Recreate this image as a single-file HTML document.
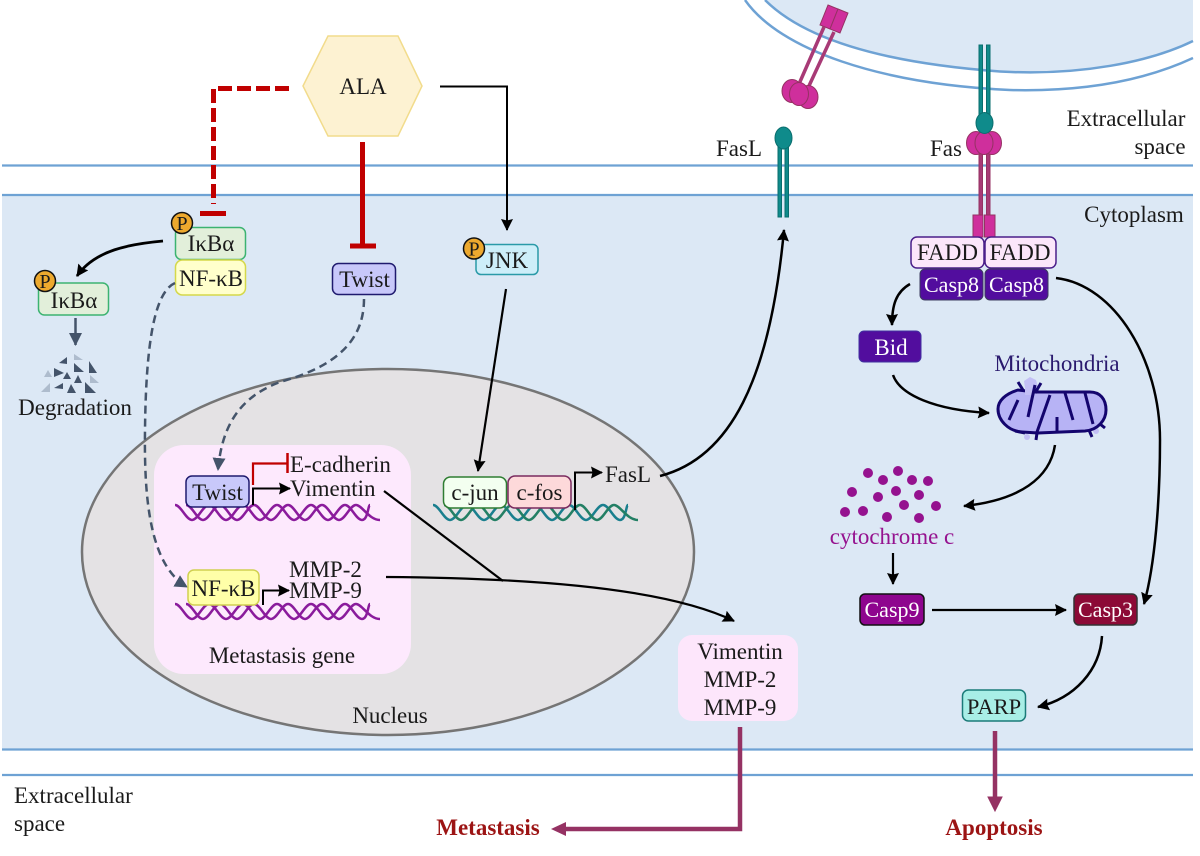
<!DOCTYPE html>
<html><head><meta charset="utf-8"><style>
html,body{margin:0;padding:0;background:#fff}
svg{display:block}
text{font-family:"Liberation Serif",serif;font-size:23px;fill:#1a1a1a;text-anchor:middle}
.l{text-anchor:start}
.w{fill:#fff}
.b{font-weight:bold;fill:#9c1414}
.p{font-size:20px}
</style></head><body>
<svg width="1200" height="856" viewBox="0 0 1200 856" xmlns="http://www.w3.org/2000/svg">
<defs>
<marker id="a" markerUnits="userSpaceOnUse" markerWidth="14" markerHeight="14" refX="11" refY="6" orient="auto"><path d="M0 0L12 6L0 12L1.500 6Z" fill="#000"/></marker>
<marker id="g" markerUnits="userSpaceOnUse" markerWidth="16" markerHeight="16" refX="12" refY="6.5" orient="auto"><path d="M0 0L13 6.500L0 13Z" fill="#44546a"/></marker>
</defs>
<!-- background -->
<rect x="2" y="195" width="1191" height="554" fill="#dce8f5"/>
<path d="M765 0C800 35 870 62 1000 71.500C1080 76 1150 62 1193 41V0Z" fill="#dce8f5"/>
<path d="M765 0C800 35 870 62 1000 71.500C1080 76 1150 62 1193 41" fill="none" stroke="#6ea2d4" stroke-width="2.500"/>
<path d="M745 0C780 50 880 84 1010 90C1090 92 1150 78 1193 58" fill="none" stroke="#6ea2d4" stroke-width="2.500"/>
<g stroke="#6ea2d4" stroke-width="2.200"><path d="M2 165.500H1193M2 195H1193M2 749.500H1193M2 775H1193"/></g>

<!-- nucleus -->
<ellipse cx="388" cy="552" rx="306" ry="183" fill="#e4e2e4" stroke="#757575" stroke-width="2.500"/>
<rect x="154" y="445" width="257" height="229" rx="30" fill="#fde9fd"/>

<!-- hexagon -->
<polygon points="303,86 328,36 398,36 422,86 398,136 328,136" fill="#fdf2d2" stroke="#f2dc8c" stroke-width="1.500"/>
<text x="363" y="94">ALA</text>
<!-- inhibitions -->
<path d="M289 88.500H213.500V204" fill="none" stroke="#c00000" stroke-width="5" stroke-dasharray="14 5"/>
<path d="M200 213.500H226" stroke="#c00000" stroke-width="5"/>
<path d="M362.500 142V245M350 246H376" stroke="#c00000" stroke-width="5" fill="none"/>
<!-- JNK arrow -->
<path d="M440 86.500H507V230" fill="none" stroke="#000" stroke-width="2" marker-end="url(#a)"/>

<!-- IkBa group -->
<rect x="175.500" y="227.500" width="70" height="32" rx="6" fill="#e2efda" stroke="#3cb371" stroke-width="1.500"/>
<text x="211" y="251">IκBα</text>
<rect x="175.500" y="260" width="70" height="35" rx="7" fill="#ffffcc" stroke="#d5d84a" stroke-width="1.500"/>
<text x="211" y="286">NF-κB</text>
<circle cx="182" cy="223" r="10.500" fill="#eda92e" stroke="#111" stroke-width="1.500"/>
<text class="p" x="182" y="230">P</text>
<path d="M163 241C130 244 95 250 77 276" fill="none" stroke="#000" stroke-width="2.800" marker-end="url(#a)"/>
<rect x="38.500" y="283" width="70" height="32" rx="6" fill="#e2efda" stroke="#3cb371" stroke-width="1.500"/>
<text x="74" y="308">IκBα</text>
<circle cx="45" cy="281" r="10.500" fill="#eda92e" stroke="#111" stroke-width="1.500"/>
<text class="p" x="45" y="288">P</text>
<path d="M75.500 318V345" stroke="#44546a" stroke-width="2.500" marker-end="url(#g)"/>
<!-- degradation fragments -->
<g fill="#44546a">
<path d="M59 363L67 357V364ZM74 363L84 372H74ZM89 361L97 373H89ZM54 368L64 373L54 377ZM63 379L67 372L71 379ZM74 383L78 375L82 383ZM54 388L63 383V389ZM67 393L71 384L76 393ZM85 382L96 393H85Z"/>
</g>
<g fill="#aebccd">
<path d="M74 354L83 360H74ZM44 377L48 370L52 377ZM90 375L99 383H90ZM41 392L50 383V392Z"/>
</g>
<text x="75" y="415">Degradation</text>

<!-- dashed -->
<g fill="none" stroke="#44546a" stroke-width="2.500" stroke-dasharray="8 5">
<path d="M175 283C155 292 146 340 145 430C144 500 150 565 187 587" marker-end="url(#g)"/>
<path d="M364 299C364 345 330 368 280 382C240 397 222 425 218 470" marker-end="url(#g)"/>
</g>

<rect x="332.500" y="263.500" width="63" height="31" rx="6" fill="#c8c8fa" stroke="#1f1a6e" stroke-width="1.500"/>
<text x="364.500" y="287">Twist</text>
<rect x="476" y="244.500" width="62" height="30" rx="5" fill="#cdeef9" stroke="#2a9aa8" stroke-width="1.500"/>
<text x="507" y="268">JNK</text>
<circle cx="474" cy="248.500" r="10.500" fill="#eda92e" stroke="#111" stroke-width="1.500"/>
<text class="p" x="474" y="255.500">P</text>

<!-- purple DNA -->
<g fill="none" stroke="#8a1b9c" stroke-width="2.500">
<path d="M175 505c6 0 11 15 17 15s11 -15 17 -15s11 15 17 15s11 -15 17 -15s11 15 17 15s11 -15 17 -15s11 15 17 15s11 -15 17 -15s11 15 17 15s11 -15 17 -15s11 15 17 15s6 -15 8 -15"/>
<path d="M186 505c6 0 11 15 17 15s11 -15 17 -15s11 15 17 15s11 -15 17 -15s11 15 17 15s11 -15 17 -15s11 15 17 15s11 -15 17 -15s11 15 17 15s11 -15 17 -15s13 15 24 15"/>
<path d="M175 604c6 0 11 15 17 15s11 -15 17 -15s11 15 17 15s11 -15 17 -15s11 15 17 15s11 -15 17 -15s11 15 17 15s11 -15 17 -15s11 15 17 15s11 -15 17 -15s11 15 17 15s6 -15 8 -15"/>
<path d="M186 604c6 0 11 15 17 15s11 -15 17 -15s11 15 17 15s11 -15 17 -15s11 15 17 15s11 -15 17 -15s11 15 17 15s11 -15 17 -15s11 15 17 15s11 -15 17 -15s13 15 24 15"/>
</g>
<rect x="186" y="476" width="63" height="31" rx="6" fill="#c8c8fa" stroke="#1f1a6e" stroke-width="1.500"/>
<text x="217.500" y="500">Twist</text>
<rect x="188" y="570" width="71" height="35" rx="6" fill="#ffffa8" stroke="#d0d050" stroke-width="1.500"/>
<text x="223.500" y="596">NF-κB</text>
<path d="M253 485V463.500H287" fill="none" stroke="#c00000" stroke-width="2.200"/>
<path d="M287.500 453V473" stroke="#c00000" stroke-width="2.500"/>
<path d="M253 505V488.500H290" fill="none" stroke="#000" stroke-width="2" marker-end="url(#a)"/>
<path d="M263 605V590.500H289" fill="none" stroke="#000" stroke-width="2" marker-end="url(#a)"/>
<text class="l" x="290" y="472">E-cadherin</text>
<text class="l" x="290" y="496">Vimentin</text>
<text class="l" x="289" y="577">MMP-2</text>
<text class="l" x="289" y="598">MMP-9</text>
<text x="282" y="663">Metastasis gene</text>
<text x="390" y="723">Nucleus</text>

<!-- teal DNA -->
<g fill="none" stroke-width="2.500">
<path stroke="#1a7f8e" d="M433 505c6 0 11 15 17 15s11 -15 17 -15s11 15 17 15s11 -15 17 -15s11 15 17 15s11 -15 17 -15s11 15 17 15s11 -15 17 -15s11 15 17 15s11 -15 17 -15s11 15 17 15s6 -15 8 -15"/>
<path stroke="#237f64" d="M444 505c6 0 11 15 17 15s11 -15 17 -15s11 15 17 15s11 -15 17 -15s11 15 17 15s11 -15 17 -15s11 15 17 15s11 -15 17 -15s11 15 17 15s11 -15 17 -15s13 15 24 15"/>
</g>
<rect x="443.500" y="477" width="63" height="31" rx="7" fill="#f3fff0" stroke="#2e7d32" stroke-width="1.500"/>
<text x="475" y="500">c-jun</text>
<rect x="508" y="476" width="63" height="32" rx="7" fill="#fdd9da" stroke="#7a2a5e" stroke-width="1.500"/>
<text x="539.500" y="500">c-fos</text>
<path d="M575 510V472.500H602" fill="none" stroke="#000" stroke-width="2" marker-end="url(#a)"/>
<text class="l" x="605" y="482">FasL</text>

<!-- black connectors -->
<path d="M506 289L478 471" fill="none" stroke="#000" stroke-width="2.200" marker-end="url(#a)"/>
<path d="M660 476C730 458 770 380 784 230" fill="none" stroke="#000" stroke-width="2.500" marker-end="url(#a)"/>
<path d="M384 491L503 581" fill="none" stroke="#000" stroke-width="2.200"/>
<path d="M386 577C510 578 660 585 734 621" fill="none" stroke="#000" stroke-width="2.200" marker-end="url(#a)"/>

<!-- Vimentin box -->
<rect x="678" y="635" width="120" height="86" rx="14" fill="#fde6fb"/>
<text x="740" y="659">Vimentin</text>
<text x="740" y="687">MMP-2</text>
<text x="740" y="715">MMP-9</text>
<path d="M740 727V829H560" fill="none" stroke="#953263" stroke-width="4.500"/>
<path d="M551 829L566 822V836Z" fill="#953263"/>
<text class="b" x="488" y="835">Metastasis</text>

<!-- FasL receptor -->
<g fill="#0f8b8b" stroke="#0a6e6e" stroke-width="1">
<rect x="778" y="145" width="3.500" height="72"/><rect x="785" y="145" width="3.500" height="72"/>
<ellipse cx="783.500" cy="138" rx="8.500" ry="11"/>
<rect x="979" y="45" width="3.500" height="70"/><rect x="986.500" y="45" width="3.500" height="70"/>
</g>
<text x="739" y="156">FasL</text>
<text x="946" y="156">Fas</text>
<text x="1126" y="126">Extracellular</text>
<text x="1160" y="154">space</text>
<text x="1134" y="222">Cytoplasm</text>
<text class="l" x="14" y="803">Extracellular</text>
<text class="l" x="14" y="831">space</text>

<!-- floating Fas -->
<g stroke="#a83a76" stroke-width="3.500"><path d="M824 27L799 84M834 32L808 88"/></g>
<g fill="#cf2f9c" stroke="#953263" stroke-width="1">
<polygon points="828,5 838,9 830,29 820,25"/>
<polygon points="838,9 848,13 840,33 830,29"/>
<ellipse cx="792" cy="91" rx="10" ry="11.500"/><ellipse cx="808" cy="97" rx="10" ry="11.500"/><ellipse cx="799" cy="94" rx="9.500" ry="11.500"/>
<!-- Fas receptor -->
<rect x="979" y="150" width="3.500" height="65" fill="#a83a76"/><rect x="986.500" y="150" width="3.500" height="65" fill="#a83a76"/>
<rect x="973" y="215" width="10" height="22"/><rect x="984.500" y="215" width="10.500" height="22"/>
<ellipse cx="976" cy="143" rx="9.500" ry="11.500"/><ellipse cx="992" cy="143" rx="9.500" ry="11.500"/><ellipse cx="984" cy="143" rx="9" ry="11.500"/>
</g>
<ellipse cx="984.500" cy="123" rx="8.500" ry="10.500" fill="#0f8b8b" stroke="#0a6e6e"/>

<!-- FADD, Casp8 -->
<rect x="911" y="237" width="73" height="31" rx="6" fill="#fbe6fa" stroke="#4b1f8a" stroke-width="1.500"/>
<rect x="985" y="237" width="71" height="31" rx="6" fill="#fbe6fa" stroke="#4b1f8a" stroke-width="1.500"/>
<text x="947.500" y="260">FADD</text>
<text x="1020" y="260">FADD</text>
<rect x="920" y="269" width="63" height="31" rx="5" fill="#520d9e" stroke="#3b3b5e"/>
<rect x="985" y="269" width="63" height="31" rx="5" fill="#520d9e" stroke="#3b3b5e"/>
<text class="w" x="951.500" y="292" style="font-size:22px">Casp8</text>
<text class="w" x="1016.500" y="292" style="font-size:22px">Casp8</text>
<path d="M910 284C896 292 892 305 892 325" fill="none" stroke="#000" stroke-width="2.500" marker-end="url(#a)"/>
<rect x="859" y="331" width="62" height="31" rx="5" fill="#520d9e" stroke="#4030a0"/>
<text class="w" x="891" y="355">Bid</text>
<path d="M893 375C900 395 935 410 989 413" fill="none" stroke="#000" stroke-width="2.500" marker-end="url(#a)"/>
<path d="M1056 278C1115 285 1160 360 1160 440C1160 500 1155 565 1144 604" fill="none" stroke="#000" stroke-width="2.500" marker-end="url(#a)"/>
<text x="1057" y="371" style="fill:#2a1a6e">Mitochondria</text>

<!-- mitochondrion -->
<path d="M1024 381l6 -4 6 3 4 14 -2 30 -8 0z" fill="#c3bff5"/>
<circle cx="1027" cy="437" r="3" fill="#c3bff5"/><circle cx="1096" cy="431" r="3" fill="#c3bff5"/>
<path d="M1018 390C1005 394 998 401 998 409C998 420 1008 431 1022 432L1038 433L1085 431C1098 430 1106 420 1106 410C1106 399 1100 392 1090 392L1035 392Z" fill="#b7b3f5" stroke="#14056e" stroke-width="3"/>
<path d="M1025 387l9 0 0 8 -9 0z" fill="#c3bff5"/>
<path d="M1018 400L1009 420M1035 385L1028 417M1050 395L1037 432M1057 432V417M1065 393L1073 420M1085 393L1093 424M1018 382L1023 390M1041 383L1035 393M1015 431L1025 433M1037 433L1036 440M1089 430L1092 437M1100 424L1105 428" fill="none" stroke="#14056e" stroke-width="3"/>

<path d="M1055 445C1050 478 1020 500 964 506" fill="none" stroke="#000" stroke-width="2.500" marker-end="url(#a)"/>
<!-- cytochrome dots -->
<g fill="#95128f">
<circle cx="868" cy="473" r="5"/><circle cx="898" cy="471" r="5"/><circle cx="883" cy="480" r="5"/><circle cx="912" cy="480" r="5"/><circle cx="928" cy="481" r="5"/>
<circle cx="852" cy="492" r="5"/><circle cx="878" cy="497" r="5"/><circle cx="896" cy="491" r="5"/><circle cx="919" cy="495" r="5"/>
<circle cx="845" cy="512" r="5"/><circle cx="863" cy="511" r="5"/><circle cx="904" cy="505" r="5"/><circle cx="936" cy="506" r="5"/><circle cx="887" cy="517" r="5"/><circle cx="919" cy="518" r="5"/>
</g>
<text x="892" y="544" style="fill:#95128f">cytochrome c</text>
<path d="M893 553V584" stroke="#000" stroke-width="2.200" marker-end="url(#a)"/>
<rect x="860" y="594" width="64" height="31" rx="5" fill="#8e058e" stroke="#111" stroke-width="1.500"/>
<text class="w" x="892" y="617" style="font-size:22px">Casp9</text>
<path d="M932 610H1066" stroke="#000" stroke-width="2.200" marker-end="url(#a)"/>
<rect x="1074" y="594" width="63" height="31" rx="5" fill="#8c0a36" stroke="#333" stroke-width="1.500"/>
<text class="w" x="1105.500" y="617" style="font-size:22px">Casp3</text>
<path d="M1102 636C1100 670 1075 698 1038 707" fill="none" stroke="#000" stroke-width="2.500" marker-end="url(#a)"/>
<rect x="962.500" y="690" width="63" height="31" rx="6" fill="#a8eee6" stroke="#1a7a78" stroke-width="1.500"/>
<text x="994" y="714" style="font-size:22.500px">PARP</text>
<path d="M995 731V800" stroke="#953263" stroke-width="4.500"/>
<path d="M988 797H1002L995 811Z" fill="#953263" stroke="#953263"/>
<text class="b" x="994" y="835">Apoptosis</text>
</svg>
</body></html>
